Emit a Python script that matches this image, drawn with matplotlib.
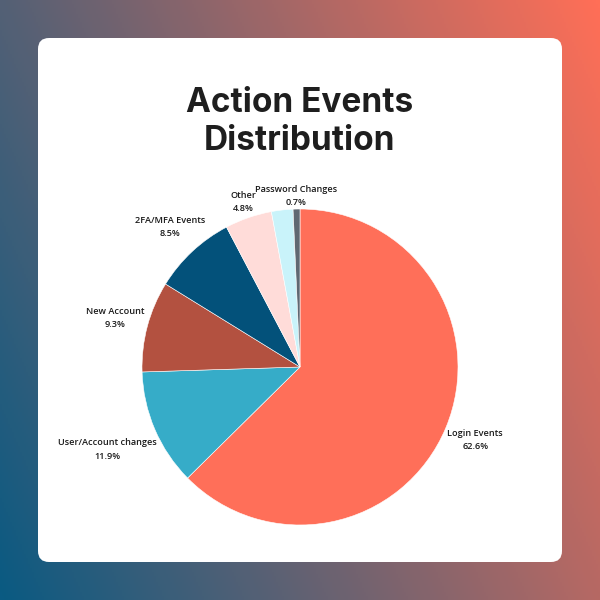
import numpy as np
import matplotlib
matplotlib.use('Agg')
import matplotlib.pyplot as plt
from matplotlib.patches import FancyBboxPatch
from matplotlib.colors import LinearSegmentedColormap

# chart data, clockwise from the top
categories = ['Login Events', 'User/Account changes', 'New Account', '2FA/MFA Events',
              'Other', '', 'Password Changes']
shares = [62.6, 11.9, 9.3, 8.5, 4.8, 2.2, 0.7]
slice_colors = ['#FF6F59', '#36ACC8', '#B35140', '#03517A', '#FFDCD9', '#C9F3FA', '#5F6872']

title = 'Action Events\nDistribution'

CX, CY, R = 300, 233, 158

fig = plt.figure(figsize=(6, 6), dpi=100)
ax = fig.add_axes([0, 0, 1, 1])

# diagonal gradient background (mostly left -> right)
xx, yy = np.meshgrid(np.linspace(0, 1, 300), np.linspace(0, 1, 300))
t = 0.7 * xx + 0.3 * yy
cmap = LinearSegmentedColormap.from_list('bg', ['#0A5A82', '#FF6F57'])
ax.imshow(t, cmap=cmap, extent=(0, 600, 0, 600), origin='lower', zorder=0)

# white card
card = FancyBboxPatch((38, 38), 524, 524, boxstyle='round,pad=0,rounding_size=11',
                      facecolor='white', edgecolor='none', zorder=1)
ax.add_patch(card)

ax.text(300, 478, title, ha='center', va='center', fontsize=24, fontweight='bold',
        family=['Inter', 'DejaVu Sans'], color='#1E1E1E', linespacing=1.2, zorder=3)

labels = [f'{c}\n{s:.1f}%' if c else '' for c, s in zip(categories, shares)]
wedges, texts = ax.pie(shares, labels=labels, colors=slice_colors, startangle=90,
                       counterclock=False, center=(CX, CY), radius=R, frame=True,
                       labeldistance=1.2,
                       wedgeprops=dict(edgecolor='white', linewidth=0.4),
                       textprops=dict(fontsize=6.6, color='#1A1A1A', fontweight='semibold',
                                      family=['Open Sans', 'DejaVu Sans']))
ax.set_xlim(0, 600)
ax.set_ylim(0, 600)
ax.axis('off')

# push each label out along its slice's middle ray until the box just clears the pie
renderer = fig.canvas.get_renderer()
gap = 2
for w, txt in zip(wedges, texts):
    w.set_zorder(2)
    txt.set_ha('center')
    txt.set_va('center')
    txt.set_multialignment('center')
    txt.set_linespacing(1.6)
    if not txt.get_text():
        continue
    ang = np.deg2rad((w.theta1 + w.theta2) / 2)
    ux, uy = np.cos(ang), np.sin(ang)
    bb = txt.get_window_extent(renderer)
    hw, hh = bb.width / 2, bb.height / 2

    def nearest(d):
        cx, cy = d * ux, d * uy
        nx = np.clip(0, cx - hw, cx + hw)
        ny = np.clip(0, cy - hh, cy + hh)
        return np.hypot(nx, ny)

    lo, hi = 0.0, R + 300.0
    for _ in range(60):
        mid = (lo + hi) / 2
        if nearest(mid) < R + gap:
            lo = mid
        else:
            hi = mid
    txt.set_position((CX + hi * ux, CY + hi * uy))

fig.savefig('out.png', dpi=100)
